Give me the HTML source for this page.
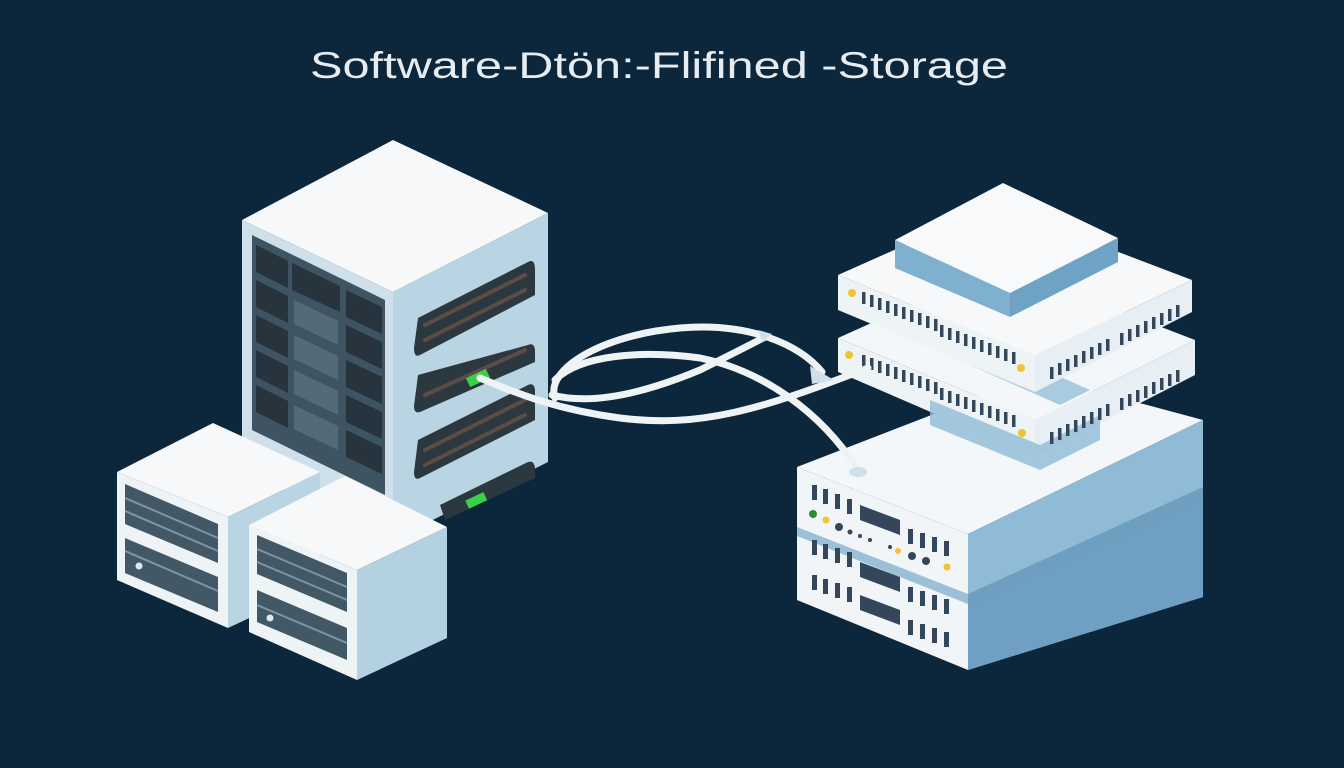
<!DOCTYPE html>
<html><head><meta charset="utf-8"><style>
html,body{margin:0;padding:0;background:#0c263b;}
svg{display:block}
</style></head><body>
<svg width="1344" height="768" viewBox="0 0 1344 768" xmlns="http://www.w3.org/2000/svg">
<defs>
<g id="vl"><rect x="0" y="0" width="3.5" height="12"/><rect x="8" y="3" width="3.5" height="12"/><rect x="16" y="6" width="3.5" height="12"/><rect x="24" y="9" width="3.5" height="12"/><rect x="32" y="12" width="3.5" height="12"/><rect x="40" y="15" width="3.5" height="12"/><rect x="48" y="18" width="3.5" height="12"/><rect x="56" y="21" width="3.5" height="12"/><rect x="64" y="24" width="3.5" height="12"/><rect x="72" y="27" width="3.5" height="12"/></g>
<g id="vr"><rect x="0" y="0" width="3.5" height="12"/><rect x="8" y="-4" width="3.5" height="12"/><rect x="16" y="-8" width="3.5" height="12"/><rect x="24" y="-12" width="3.5" height="12"/><rect x="32" y="-16" width="3.5" height="12"/><rect x="40" y="-20" width="3.5" height="12"/><rect x="48" y="-24" width="3.5" height="12"/><rect x="56" y="-28" width="3.5" height="12"/></g>
</defs>
<rect width="1344" height="768" fill="#0c263b"/>
<text x="310" y="78" font-family="Liberation Sans, sans-serif" font-size="37" fill="#e6ecf0" textLength="698" lengthAdjust="spacingAndGlyphs">Software-Dtön:-Flifined -Storage</text>

<!-- Tower -->
<polygon points="242,220 393,140 548,213 393,292" fill="#f6f8fa"/>
<polygon points="242,220 393,292 393,540 242,470" fill="#cfe0ea"/>
<polygon points="393,292 548,213 548,462 393,540" fill="#b9d5e3"/>
<polygon points="252,235 385,300 385,495 252,430" fill="#3e5462"/>
<g fill="#27343d">
<polygon points="256,245 288,261 288,288 256,272"/><polygon points="292,263 340,286 340,312 292,290"/><polygon points="346,290 382,307 382,334 346,317"/>
<polygon points="256,280 288,296 288,323 256,307"/><polygon points="346,325 382,342 382,369 346,352"/>
<polygon points="256,315 288,331 288,358 256,342"/><polygon points="346,360 382,377 382,404 346,387"/>
<polygon points="256,350 288,366 288,393 256,377"/><polygon points="346,395 382,412 382,439 346,422"/>
<polygon points="256,385 288,401 288,428 256,412"/><polygon points="346,430 382,447 382,474 346,457"/>
</g>
<g fill="#556a77"><polygon points="294,300 338,321 338,345 294,324"/><polygon points="294,335 338,356 338,380 294,359"/><polygon points="294,370 338,391 338,415 294,394"/><polygon points="294,405 338,426 338,450 294,429"/></g>
<g fill="#2c3840">
<path d="M418,318 L528,262 Q535,258 535,270 L535,295 L420,355 Q414,358 414,348 Z"/>
<path d="M418,375 L528,345 Q535,342 535,352 L535,362 L420,412 Q414,414 414,406 Z"/>
<path d="M418,440 L528,385 Q535,382 535,392 L535,420 L420,478 Q414,481 414,472 Z"/>
<path d="M440,505 L528,462 Q535,460 535,470 L535,478 L445,520 Z"/>
</g>
<g stroke="#5c4c48" stroke-width="4" stroke-linecap="round"><line x1="425" y1="325" x2="525" y2="275"/><line x1="425" y1="340" x2="525" y2="290"/><line x1="425" y1="395" x2="525" y2="350"/><line x1="425" y1="450" x2="525" y2="400"/><line x1="425" y1="465" x2="525" y2="415"/></g>
<rect x="467" y="373" width="22" height="10" fill="#3ccf4a" transform="rotate(-25 478 378)"/>
<rect x="466" y="496" width="20" height="9" fill="#3ccf4a" transform="rotate(-25 476 500)"/>

<!-- Small boxes -->
<polygon points="117,472 213,423 320,472 228,517" fill="#f6f8fa"/>
<polygon points="117,472 228,517 228,628 117,580" fill="#eef3f6"/>
<polygon points="228,517 320,472 320,585 228,628" fill="#b9d5e3"/>
<polygon points="125,484 218,524 218,563 125,524" fill="#435866"/>
<polygon points="125,538 218,577 218,612 125,573" fill="#435866"/>
<g stroke="#7f95a3" stroke-width="2"><line x1="125" y1="498" x2="218" y2="538"/><line x1="125" y1="511" x2="218" y2="551"/><line x1="125" y1="551" x2="218" y2="591"/></g>
<circle cx="139" cy="566" r="3.5" fill="#dfe8ee"/>
<polygon points="249,525 345,476 447,527 357,570" fill="#f6f8fa"/>
<polygon points="249,525 357,570 357,680 249,632" fill="#eef3f6"/>
<polygon points="357,570 447,527 447,638 357,680" fill="#b3d1e1"/>
<polygon points="257,535 347,573 347,612 257,574" fill="#435866"/>
<polygon points="257,590 347,628 347,660 257,622" fill="#435866"/>
<g stroke="#7f95a3" stroke-width="2"><line x1="257" y1="549" x2="347" y2="587"/><line x1="257" y1="562" x2="347" y2="600"/><line x1="257" y1="605" x2="347" y2="643"/></g>
<circle cx="270" cy="618" r="3.5" fill="#dfe8ee"/>

<!-- Right bottom block -->
<polygon points="797,467 1035,375 1203,420 968,534" fill="#f4f7f9"/>
<polygon points="797,467 968,534 968,670 797,600" fill="#f1f5f8"/>
<polygon points="968,534 1203,420 1203,597 968,670" fill="#8fbbd6"/>
<polygon points="968,594 1203,487 1203,500 968,606" fill="#6f9fbf"/>
<polygon points="797,527 968,594 968,604 797,536" fill="#9cc0d6"/>
<polygon points="968,604 1203,500 1203,597 968,670" fill="#6f9fc2"/>
<g fill="#34475a">
<rect x="812" y="485" width="5" height="15"/><rect x="823" y="489" width="5" height="15"/><rect x="835" y="494" width="5" height="15"/><rect x="847" y="499" width="5" height="15"/>
<polygon points="860,505 900,520 900,535 860,520"/>
<rect x="908" y="529" width="5" height="15"/><rect x="920" y="533" width="5" height="15"/><rect x="932" y="537" width="5" height="15"/><rect x="944" y="541" width="5" height="15"/>
<rect x="812" y="540" width="5" height="15"/><rect x="823" y="544" width="5" height="15"/><rect x="835" y="548" width="5" height="15"/><rect x="847" y="552" width="5" height="15"/>
<polygon points="860,562 900,577 900,592 860,577"/>
<rect x="908" y="587" width="5" height="15"/><rect x="920" y="591" width="5" height="15"/><rect x="932" y="595" width="5" height="15"/><rect x="944" y="599" width="5" height="15"/>
<rect x="812" y="575" width="5" height="15"/><rect x="823" y="579" width="5" height="15"/><rect x="835" y="583" width="5" height="15"/><rect x="847" y="587" width="5" height="15"/>
<polygon points="860,595 900,610 900,625 860,610"/>
<rect x="908" y="620" width="5" height="15"/><rect x="920" y="624" width="5" height="15"/><rect x="932" y="628" width="5" height="15"/><rect x="944" y="632" width="5" height="15"/>
<circle cx="839" cy="527" r="4"/><circle cx="850" cy="532" r="2.5"/><circle cx="860" cy="536" r="2"/><circle cx="870" cy="540" r="2"/><circle cx="890" cy="547" r="2"/><circle cx="912" cy="556" r="4"/><circle cx="926" cy="561" r="4"/>
</g>
<circle cx="813" cy="514" r="4" fill="#2d8a3a"/><circle cx="826" cy="520" r="3.5" fill="#f1c232"/><circle cx="898" cy="551" r="3" fill="#f1c232"/><circle cx="947" cy="567" r="3.5" fill="#f1c232"/>

<!-- Upper unit 2 -->
<polygon points="838,338 1000,265 1195,340 1035,420" fill="#f4f7f9"/>
<polygon points="880,325 1060,405 1090,390 910,310" fill="#a9cbe0"/>
<polygon points="838,338 1035,420 1035,457 838,372" fill="#eef3f6"/>
<polygon points="1035,420 1195,340 1195,375 1035,457" fill="#e8eff4"/>
<polygon points="930,400 1040,445 1100,415 1100,440 1040,470 930,425" fill="#8fbbd6" opacity="0.8"/>
<!-- Upper unit 1 -->
<polygon points="838,275 995,205 1192,280 1035,355" fill="#f6f8fa"/>
<polygon points="838,275 1035,355 1035,392 838,310" fill="#eef3f6"/>
<polygon points="1035,355 1192,280 1192,312 1035,392" fill="#e8eff4"/>
<!-- Top small block -->
<polygon points="895,240 1003,183 1118,238 1010,293" fill="#f7f9fb"/>
<polygon points="895,240 1010,293 1010,317 895,268" fill="#7fb0cf"/>
<polygon points="1010,293 1118,238 1118,262 1010,317" fill="#6ea3c6"/>
<g fill="#34475a">
<use href="#vl" x="862" y="292"/><use href="#vl" x="940" y="325"/>
<use href="#vl" x="862" y="355"/><use href="#vl" x="940" y="388"/>
<use href="#vr" x="1050" y="367"/><use href="#vr" x="1120" y="333"/><use href="#vr" x="1050" y="432"/><use href="#vr" x="1120" y="398"/>
</g>
<g fill="#f1c232"><circle cx="852" cy="293" r="4"/><circle cx="1021" cy="368" r="4"/><circle cx="849" cy="355" r="4"/><circle cx="1022" cy="433" r="4"/></g>

<!-- Cables -->
<g fill="none" stroke="#eef3f6" stroke-width="7" stroke-linecap="round">
<path d="M480,378 C520,395 560,410 620,418 C700,428 760,410 868,368"/>
<path d="M555,398 C545,370 600,335 680,328 C750,322 800,345 822,372"/>
<path d="M552,395 C590,405 640,395 700,370 C730,355 750,345 765,337"/>
<path d="M555,380 C580,355 640,350 700,358 C760,370 820,410 858,470"/>
</g>
<polygon points="810,366 834,380 812,384" fill="#cfe0ea"/>
<polygon points="758,330 772,334 762,342" fill="#cfe0ea"/>
<ellipse cx="858" cy="472" rx="9" ry="5" fill="#cfe0ea"/>
</svg>
</body></html>
